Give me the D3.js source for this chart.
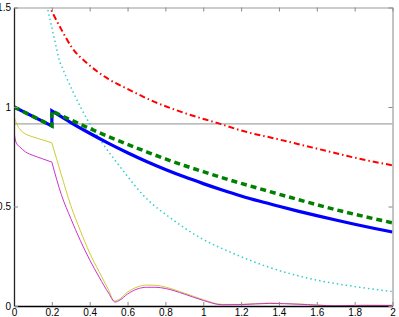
<!DOCTYPE html>
<html lang="en">
<head>
<meta charset="utf-8">
<script src="https://d3js.org/d3.v7.min.js"></script>
<style>
  body { margin: 0; background: #fff; }
  svg text { font-family: "Liberation Sans", Arial, sans-serif; font-size: 10px; }
</style>
</head>
<body>
<script>
// tick values
var xTicks = [0, 0.2, 0.4, 0.6, 0.8, 1, 1.2, 1.4, 1.6, 1.8, 2];
var yTicks = [0, 0.5, 1, 1.5];

// series, [x, y]
var blueSolid = [[0, 1], [0.2, 0.905], [0.2, 0.98], [0.3, 0.922], [0.4, 0.868], [0.5, 0.817],
  [0.6, 0.77], [0.7, 0.726], [0.8, 0.686], [0.9, 0.649], [1, 0.615], [1.1, 0.583],
  [1.2, 0.553], [1.3, 0.526], [1.4, 0.501], [1.5, 0.477], [1.6, 0.454], [1.7, 0.432],
  [1.8, 0.411], [1.9, 0.391], [2, 0.372]];
var greenDash = [[0, 1], [0.2, 0.905], [0.2, 0.98], [0.3, 0.935], [0.4, 0.892], [0.5, 0.851],
  [0.6, 0.812], [0.7, 0.775], [0.8, 0.739], [0.9, 0.706], [1, 0.675], [1.1, 0.645],
  [1.2, 0.616], [1.3, 0.589], [1.4, 0.562], [1.5, 0.535], [1.6, 0.509], [1.7, 0.484],
  [1.8, 0.461], [1.9, 0.439], [2, 0.418]];
var redDashDot = [[0.185, 1.53], [0.2, 1.48], [0.25, 1.39], [0.305, 1.3], [0.39, 1.217],
  [0.49, 1.146], [0.61, 1.086], [0.72, 1.035], [0.9, 0.97], [1.09, 0.915], [1.2, 0.882],
  [1.4, 0.837], [1.6, 0.791], [1.85, 0.735], [2, 0.707]];
var cyanDot = [[0.165, 1.6], [0.176, 1.5], [0.24, 1.23], [0.31, 1.08], [0.4, 0.916],
  [0.47, 0.815], [0.56, 0.7], [0.7, 0.54], [0.83, 0.44], [0.98, 0.345], [1.16, 0.264],
  [1.34, 0.197], [1.6, 0.13], [1.8, 0.098], [2, 0.072]];
var grayLevel = [[0, 0.915], [2, 0.915]];
var yellowThin = [[0, 0.96], [0.003, 0.945], [0.01, 0.925], [0.03, 0.89], [0.06, 0.865],
  [0.1, 0.85], [0.15, 0.835], [0.2, 0.82], [0.25, 0.66], [0.3, 0.505], [0.35, 0.38],
  [0.4, 0.266], [0.45, 0.172], [0.5, 0.08], [0.53, 0.025], [0.55, 0.03], [0.6, 0.07],
  [0.65, 0.095], [0.7, 0.105], [0.75, 0.104], [0.8, 0.095], [0.9, 0.065], [1, 0.032],
  [1.1, 0.008], [1.2, 0.008], [1.35, 0.015], [1.5, 0.01], [1.7, 0.002], [1.85, 0.004], [2, 0.003]];
var magentaThin = [[0, 0.915], [0.002, 0.87], [0.006, 0.84], [0.015, 0.815], [0.03, 0.8],
  [0.06, 0.775], [0.1, 0.757], [0.15, 0.74], [0.2, 0.723], [0.25, 0.56], [0.3, 0.44],
  [0.35, 0.33], [0.4, 0.232], [0.45, 0.145], [0.5, 0.065], [0.534, 0.02], [0.56, 0.03],
  [0.6, 0.06], [0.65, 0.085], [0.7, 0.094], [0.75, 0.094], [0.8, 0.088], [0.9, 0.06],
  [1, 0.028], [1.1, 0.006], [1.2, 0.007], [1.35, 0.013], [1.5, 0.009], [1.7, 0.001],
  [1.85, 0.003], [2, 0.003]];
// x where the curves have a corner or a jump
var breakX = 0.2;

var w = 399, h = 317;
var padL = 14, padR = 392.5, padT = 7.5, padB = 306;

var x = d3.scaleLinear().domain([0, 2]).range([padL, padR]);
var y = d3.scaleLinear().domain([0, 1.5]).range([padB, padT]);

var svg = d3.select("body").append("svg")
  .attr("width", w)
  .attr("height", h);

svg.append("clipPath").attr("id", "plot")
  .append("rect")
  .attr("x", padL).attr("y", padT)
  .attr("width", padR - padL).attr("height", padB - padT);

var line = d3.line()
  .x(function (d) { return x(d[0]); })
  .y(function (d) { return y(d[1]); })
  .curve(d3.curveMonotoneX);

// split at the corner so it stays sharp; jump = vertical segment
function pathFor(data) {
  var a = data.filter(function (d) { return d[0] <= breakX; });
  var b = data.filter(function (d) { return d[0] >= breakX; });
  if (a.length < 2 || b.length < 2) return line(data);
  // drop duplicated x inside each piece
  var bUse = b[0][0] === b[1][0] ? b.slice(1) : b;
  var aUse = a.length > 1 && a[a.length - 1][0] === a[a.length - 2][0] ? a.slice(0, -1) : a;
  var jump = "";
  if (aUse[aUse.length - 1][1] !== bUse[0][1]) {
    jump = "L" + x(bUse[0][0]) + "," + y(bUse[0][1]);
  }
  return line(aUse) + jump + line(bUse).replace(/^M/, "L");
}

var g = svg.append("g").attr("clip-path", "url(#plot)");

function draw(data, color, width, dash) {
  g.append("path")
    .attr("d", pathFor(data))
    .attr("fill", "none")
    .attr("stroke", color)
    .attr("stroke-width", width)
    .attr("stroke-linejoin", "miter")
    .attr("stroke-dasharray", dash || null);
}

draw(grayLevel, "#a6a6a6", 1.2);
draw(yellowThin, "#cccc33", 1);
draw(magentaThin, "#cc33cc", 1);
draw(cyanDot, "#33cccc", 1.5, "1.5,3");
draw(redDashDot, "#ff0000", 2, "6,3,1.5,3");
draw(blueSolid, "#0000ff", 3.2);
draw(greenDash, "#008000", 3.5, "6,4");

// axes, ticks pointing inside
var gx = svg.append("g").attr("transform", "translate(0," + padB + ")")
  .call(d3.axisBottom(x).tickValues(xTicks).tickSize(-4).tickSizeOuter(0).tickPadding(3)
    .tickFormat(d3.format("")));
var gt = svg.append("g").attr("transform", "translate(0," + padT + ")")
  .call(d3.axisTop(x).tickValues(xTicks).tickSize(-4).tickSizeOuter(0).tickFormat(""));
var gy = svg.append("g").attr("transform", "translate(" + padL + ",0)")
  .call(d3.axisLeft(y).tickValues(yTicks).tickSize(-4).tickSizeOuter(0).tickPadding(3)
    .tickFormat(d3.format("")));
var gr = svg.append("g").attr("transform", "translate(" + padR + ",0)")
  .call(d3.axisRight(y).tickValues(yTicks).tickSize(-4).tickSizeOuter(0).tickFormat(""));

svg.selectAll(".tick line").attr("stroke", "#888");
svg.selectAll(".tick text").attr("fill", "#000").style("font-size", "10px");
gx.select(".domain").attr("stroke", "#000").attr("stroke-width", 1.5);
gy.select(".domain").attr("stroke", "#222").attr("stroke-width", 1.3);
gt.select(".domain").attr("stroke", "#999");
gr.select(".domain").attr("stroke", "#888");
</script>
</body>
</html>
